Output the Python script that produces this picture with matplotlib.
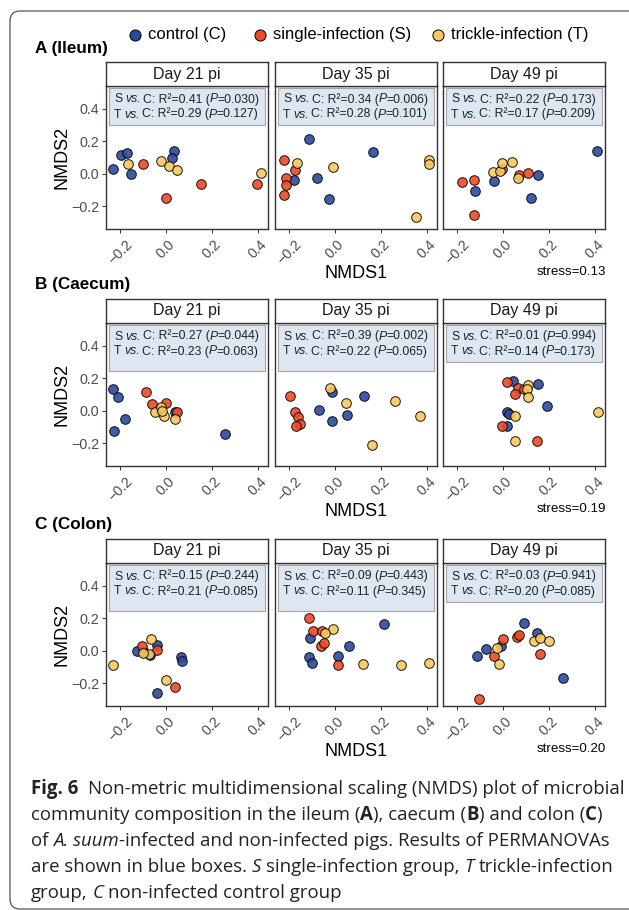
import matplotlib
matplotlib.use("Agg")
import matplotlib.pyplot as plt
from matplotlib.patches import Rectangle, FancyBboxPatch
from matplotlib.transforms import IdentityTransform

W, H = 629, 910

plt.rcParams["font.family"] = ["Liberation Sans", "DejaVu Sans"]

# ---- data ----
days = ["Day 21 pi", "Day 35 pi", "Day 49 pi"]
sections = ["A (Ileum)", "B (Caecum)", "C (Colon)"]
stress = ["stress=0.13", "stress=0.19", "stress=0.20"]
groups = ["control (C)", "single-infection (S)", "trickle-infection (T)"]
colors = ["#2B4A9D", "#EF4A26", "#F7C85F"]

# PERMANOVA results (rows: ileum, caecum, colon; cols: day 21, 35, 49)
s_r2 = [["0.41", "0.34", "0.22"], ["0.27", "0.39", "0.01"], ["0.15", "0.09", "0.03"]]
s_p = [["0.030", "0.006", "0.173"], ["0.044", "0.002", "0.994"], ["0.244", "0.443", "0.941"]]
t_r2 = [["0.29", "0.28", "0.17"], ["0.23", "0.22", "0.14"], ["0.21", "0.11", "0.20"]]
t_p = [["0.127", "0.101", "0.209"], ["0.063", "0.065", "0.173"], ["0.085", "0.345", "0.085"]]

# NMDS coordinates (NMDS1, NMDS2) per panel and group
ileum_21_C = [(-0.229, 0.027), (-0.197, 0.115), (-0.168, 0.127), (-0.154, -0.002), (0.035, 0.142), (0.026, 0.094)]
ileum_21_S = [(-0.101, 0.057), (0.000, -0.152), (0.152, -0.062), (0.397, -0.062)]
ileum_21_T = [(-0.165, 0.063), (-0.020, 0.076), (0.014, 0.047), (0.049, 0.025), (0.412, 0.004)]

ileum_35_C = [(-0.114, 0.211), (-0.080, -0.027), (-0.027, -0.158), (-0.178, -0.037), (0.167, 0.131)]
ileum_35_S = [(-0.220, 0.084), (-0.174, 0.021), (-0.213, -0.027), (-0.213, -0.072), (-0.222, -0.133)]
ileum_35_T = [(-0.167, 0.068), (-0.007, 0.043), (0.407, 0.086), (0.407, 0.059), (0.352, -0.269)]

ileum_49_C = [(0.407, 0.142), (-0.122, -0.107), (-0.039, -0.047), (0.151, -0.008), (0.123, -0.150)]
ileum_49_S = [(-0.177, -0.051), (-0.128, -0.041), (-0.125, -0.256), (-0.003, 0.031), (0.070, -0.006), (0.110, 0.004)]
ileum_49_T = [(-0.045, 0.010), (-0.013, 0.014), (-0.006, 0.068), (0.038, 0.072), (0.067, -0.025)]

caecum_21_C = [(-0.229, 0.131), (-0.209, 0.082), (-0.180, -0.049), (-0.226, -0.127), (0.038, -0.006), (0.255, -0.146)]
caecum_21_S = [(-0.087, 0.115), (-0.061, 0.041), (0.000, 0.049), (0.049, -0.006), (-0.026, 0.010)]
caecum_21_T = [(-0.048, -0.010), (-0.023, 0.020), (-0.009, -0.031), (0.038, -0.051), (-0.019, -0.004)]

caecum_35_C = [(-0.068, 0.002), (-0.013, -0.064), (-0.013, 0.113), (0.051, -0.025), (0.126, 0.088)]
caecum_35_S = [(-0.196, 0.088), (-0.174, -0.006), (-0.160, -0.041), (-0.152, -0.082), (-0.170, -0.096)]
caecum_35_T = [(-0.022, 0.140), (0.048, 0.049), (0.262, 0.062), (0.370, -0.035), (0.159, -0.209)]

caecum_49_C = [(0.042, 0.180), (0.154, 0.164), (0.193, 0.027), (0.016, -0.006), (0.027, -0.021), (0.016, -0.096)]
caecum_49_S = [(0.016, 0.174), (0.065, 0.140), (0.052, 0.103), (-0.006, -0.092), (0.146, -0.187), (0.091, 0.133)]
caecum_49_T = [(0.107, 0.160), (0.103, 0.133), (0.107, 0.086), (0.052, -0.031), (0.053, -0.185), (0.413, -0.006)]

colon_21_C = [(-0.125, -0.004), (-0.070, -0.025), (-0.038, 0.033), (0.064, -0.037), (0.068, -0.066), (-0.038, -0.258), (-0.096, -0.008)]
colon_21_S = [(-0.104, 0.029), (-0.038, 0.006), (0.039, -0.226)]
colon_21_T = [(-0.232, -0.088), (-0.064, 0.074), (-0.075, -0.020), (0.000, -0.180), (-0.099, -0.012)]

colon_35_C = [(-0.109, 0.076), (-0.112, -0.037), (-0.100, -0.078), (0.013, -0.033), (0.062, 0.031), (0.213, 0.162)]
colon_35_S = [(-0.112, 0.201), (-0.094, 0.119), (-0.057, 0.119), (-0.062, 0.027), (-0.048, 0.045), (0.013, -0.090)]
colon_35_T = [(-0.007, 0.133), (-0.042, 0.107), (0.123, -0.084), (0.286, -0.090), (0.409, -0.076)]

colon_49_C = [(-0.114, -0.031), (-0.074, 0.010), (-0.010, 0.027), (0.090, 0.168), (0.146, 0.111), (0.259, -0.170)]
colon_49_S = [(0.001, 0.072), (-0.038, -0.035), (0.059, 0.082), (0.071, 0.098), (0.161, -0.020), (-0.104, -0.297)]
colon_49_T = [(-0.027, 0.014), (-0.016, -0.082), (0.135, 0.057), (0.161, 0.078), (0.200, 0.062)]

panels = [
    [[ileum_21_C, ileum_21_S, ileum_21_T], [ileum_35_C, ileum_35_S, ileum_35_T], [ileum_49_C, ileum_49_S, ileum_49_T]],
    [[caecum_21_C, caecum_21_S, caecum_21_T], [caecum_35_C, caecum_35_S, caecum_35_T], [caecum_49_C, caecum_49_S, caecum_49_T]],
    [[colon_21_C, colon_21_S, colon_21_T], [colon_35_C, colon_35_S, colon_35_T], [colon_49_C, colon_49_S, colon_49_T]],
]

# ---- layout (pixels from top-left) ----
col_left = [106, 275, 443]
panel_w = 162
strip_top = [62, 299, 539]
strip_h = 24
panel_h = 143
box_h = [[37, 37, 37], [46, 46, 37], [46, 46, 37]]
grey = "#4D4D4D"


def fx(x):
    return x / W


def fy(y):
    return 1 - y / H


fig = plt.figure(figsize=(W / 100, H / 100), dpi=100)
renderer = fig.canvas.get_renderer()


def measure(txt, size, family, weight="normal", style="normal"):
    t = fig.text(0, 0, txt, fontsize=size, family=family, weight=weight, style=style)
    w = t.get_window_extent(renderer).width
    t.remove()
    return w


def advance(txt, size, family, weight, style):
    # width including side bearings, using bars as fences
    return (measure("|" + txt + "|", size, family, weight, style)
            - measure("||", size, family, weight, style))


def draw_runs(x, y, runs, size, family, color="#222222", zorder=5, italic_fix=0.0):
    # draws a line of text made of differently styled pieces, x/y in pixels (baseline)
    space_w = advance(" ", size, family, "normal", "normal")
    for k, (txt, weight, style) in enumerate(runs):
        lead = len(txt) - len(txt.lstrip(" "))
        trail = len(txt) - len(txt.rstrip(" "))
        x += lead * space_w
        core = txt.strip(" ")
        if core:
            fig.text(fx(x), fy(y), core, fontsize=size, family=family, weight=weight,
                     style=style, ha="left", va="baseline", color=color, zorder=zorder)
            x += advance(core, size, family, weight, style)
            # italic piece followed by a space looks too loose at small sizes
            if style == "italic" and k + 1 < len(runs) and runs[k + 1][0].startswith(" "):
                x -= italic_fix
        x += trail * space_w


N, I, B = "normal", "italic", "bold"

for r in range(3):
    top = strip_top[r] + strip_h
    for c in range(3):
        left = col_left[c]
        ax = fig.add_axes([fx(left), fy(top + panel_h), panel_w / W, panel_h / H])
        for g in range(3):
            pts = panels[r][c][g]
            ax.scatter([p[0] for p in pts], [p[1] for p in pts], s=48, color=colors[g],
                       edgecolor="black", linewidth=0.7, alpha=0.9, zorder=3)
        ax.set_xlim(-0.261, 0.443)
        ax.set_ylim(-0.34, 0.54)
        ax.set_xticks([-0.2, 0.0, 0.2, 0.4])
        ax.set_xticklabels(["\u22120.2", "0.0", "0.2", "0.4"], rotation=45, ha="center",
                           fontsize=10.3, color=grey)
        ax.tick_params(axis="x", length=3, width=0.7, color="#333333", pad=3)
        if c == 0:
            ax.set_yticks([-0.2, 0.0, 0.2, 0.4])
            ax.set_yticklabels(["\u22120.2", "0.0", "0.2", "0.4"], fontsize=10.3, color=grey)
            ax.tick_params(axis="y", length=3, width=0.7, color="#333333", pad=2)
        else:
            ax.set_yticks([])
        for sp in ax.spines.values():
            sp.set_linewidth(1.0)
            sp.set_color("#333333")

        # PERMANOVA box
        bh = box_h[r][c]
        ax.add_patch(Rectangle((3 / panel_w, 1 - (2 + bh) / panel_h), 156 / panel_w, bh / panel_h,
                               transform=ax.transAxes, facecolor="#DDE7F2", edgecolor="#A5A5A5",
                               linewidth=0.8, zorder=2))
        draw_runs(left + 8, top + 16.5,
                  [("S ", N, N), ("vs.", N, I), (" C: R\u00b2=" + s_r2[r][c] + " (", N, N),
                   ("P", N, I), ("=" + s_p[r][c] + ")", N, N)], 8.8, "Liberation Sans",
                  italic_fix=2.0)
        draw_runs(left + 8, top + 31.5,
                  [("T ", N, N), ("vs.", N, I), (" C: R\u00b2=" + t_r2[r][c] + " (", N, N),
                   ("P", N, I), ("=" + t_p[r][c] + ")", N, N)], 8.8, "Liberation Sans",
                  italic_fix=2.0)

        # strip
        sax = fig.add_axes([fx(left), fy(top), panel_w / W, strip_h / H])
        sax.set_xticks([])
        sax.set_yticks([])
        for sp in sax.spines.values():
            sp.set_linewidth(1.0)
            sp.set_color("#333333")
        sax.text(0.5, 0.5, days[c], transform=sax.transAxes, ha="center", va="center",
                 fontsize=11.5, color="#1A1A1A")

    # row labels
    fig.text(fx(35), fy(strip_top[r] - 14), sections[r], fontsize=12.3, weight="bold",
             ha="left", va="center")
    fig.text(fx(62), fy(top + panel_h / 2), "NMDS2", fontsize=13, rotation=90,
             ha="center", va="center")
    fig.text(fx(356), fy(top + panel_h + 45), "NMDS1", fontsize=13, ha="center", va="center")
    fig.text(fx(606), fy(top + panel_h + 43), stress[r], fontsize=9.6, ha="right", va="center")

# legend
leg_x = [135, 260, 438]
for g in range(3):
    fig.add_artist(plt.Line2D([fx(leg_x[g])], [fy(35)], marker="o", markersize=8,
                              markerfacecolor=colors[g], markeredgecolor="black",
                              markeredgewidth=0.7, transform=fig.transFigure))
    fig.text(fx(leg_x[g] + 13), fy(35), groups[g], fontsize=12, ha="left", va="center")

# outer frame of the figure panel
fig.add_artist(FancyBboxPatch((10, 1), 650, 898, boxstyle="round,pad=0,rounding_size=10",
                              transform=IdentityTransform(), fill=False, edgecolor="#555555",
                              linewidth=0.9))

# caption with mixed styles; size chosen so the first line spans the frame width
cap_family = "Open Sans"
caption = [
    [("Fig. 6", B, N), ("  Non-metric multidimensional scaling (NMDS) plot of microbial", N, N)],
    [("community composition in the ileum (", N, N), ("A", B, N), ("), caecum (", N, N),
     ("B", B, N), (") and colon (", N, N), ("C", B, N), (")", N, N)],
    [("of ", N, N), ("A. suum", N, I), ("-infected and non-infected pigs. Results of PERMANOVAs", N, N)],
    [("are shown in blue boxes. ", N, N), ("S", N, I), (" single-infection group, ", N, N),
     ("T", N, I), (" trickle-infection", N, N)],
    [("group, ", N, N), ("C", N, I), (" non-infected control group", N, N)],
]
w_test = advance("Fig. 6", 12, cap_family, B, N) + \
    advance("  Non-metric multidimensional scaling (NMDS) plot of microbial", 12, cap_family, N, N)
cap_size = 12 * 590 / w_test
cap_base = [794, 820, 846, 872, 898]
for i, runs in enumerate(caption):
    draw_runs(31, cap_base[i], runs, cap_size, cap_family)

fig.savefig("out.png", dpi=100)
